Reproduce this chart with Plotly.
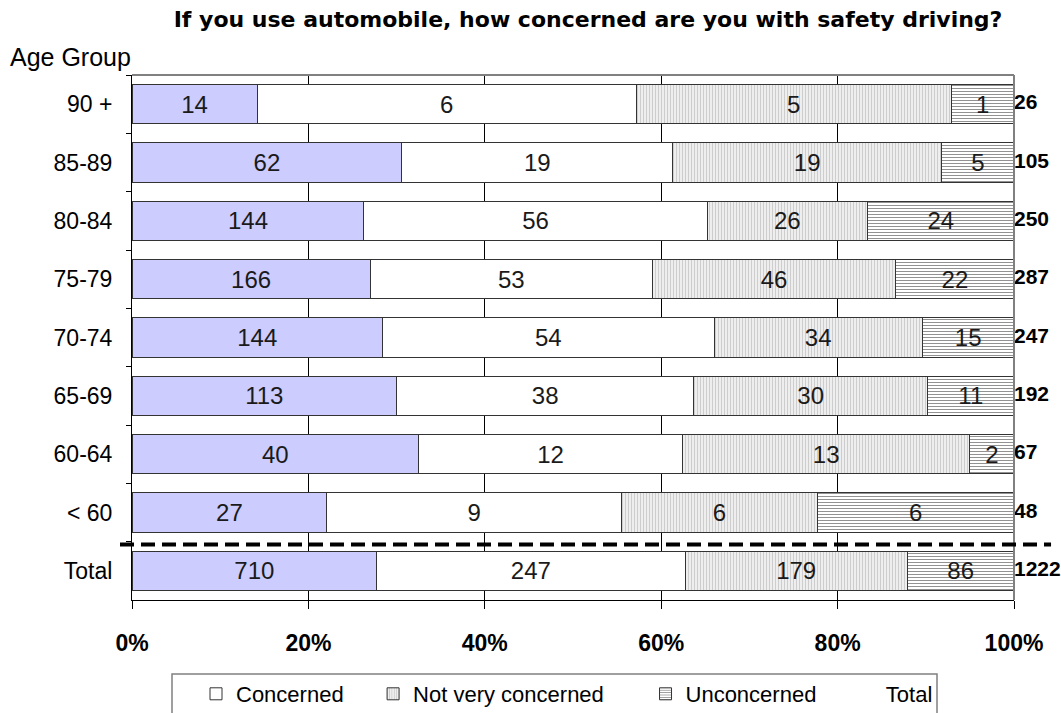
import plotly.graph_objects as go

# ---- data ----
age_groups = ["90 +", "85-89", "80-84", "75-79", "70-74", "65-69", "60-64", "< 60", "Total"]

# segment widths (percent of bar)
pct_very_concerned = [14.2, 30.6, 26.3, 27.0, 28.4, 30.0, 32.5, 22.1, 27.75]
pct_concerned = [42.95, 30.7, 38.9, 32.0, 37.6, 33.7, 29.9, 33.4, 34.95]
pct_not_very = [35.75, 30.5, 18.2, 27.6, 23.6, 26.5, 32.6, 22.2, 25.2]
pct_unconcerned = [7.1, 8.2, 16.6, 13.4, 10.4, 9.8, 5.0, 22.3, 12.1]

# respondent counts shown as labels
n_very_concerned = [14, 62, 144, 166, 144, 113, 40, 27, 710]
n_concerned = [6, 19, 56, 53, 54, 38, 12, 9, 247]
n_not_very = [5, 19, 26, 46, 34, 30, 13, 6, 179]
n_unconcerned = [1, 5, 24, 22, 15, 11, 2, 6, 86]
n_total = [26, 105, 250, 287, 247, 192, 67, 48, 1222]

x_tick_values = [0, 20, 40, 60, 80, 100]
x_tick_labels = ["0%", "20%", "40%", "60%", "80%", "100%"]

FONT = "Liberation Sans, Arial, sans-serif"
bar_text_font = dict(family=FONT, size=24, color="#1a1a1a")
NB = "\u00a0"  # non-breaking space used to widen legend entries

fig = go.Figure()

fig.add_trace(go.Bar(
    y=age_groups, x=pct_very_concerned, orientation="h", name="Very concerned",
    showlegend=False,
    marker=dict(color="#CCCCFF", line=dict(color="#333333", width=1)),
    text=n_very_concerned, textposition="inside", insidetextanchor="middle",
    textfont=bar_text_font, textangle=0, constraintext="none",
    hoverinfo="skip",
))
fig.add_trace(go.Bar(
    y=age_groups, x=pct_concerned, orientation="h", name="Concerned" + NB * 4,
    marker=dict(color="white", line=dict(color="#333333", width=1)),
    text=n_concerned, textposition="inside", insidetextanchor="middle",
    textfont=bar_text_font, textangle=0, constraintext="none",
    hoverinfo="skip",
))
fig.add_trace(go.Bar(
    y=age_groups, x=pct_not_very, orientation="h", name="Not very concerned" + NB * 6,
    marker=dict(color="#f1f1f1", line=dict(color="#333333", width=1),
                pattern=dict(shape="|", fgcolor="#aaaaaa", bgcolor="#f1f1f1",
                             size=3, solidity=0.4, fillmode="overlay")),
    text=n_not_very, textposition="inside", insidetextanchor="middle",
    textfont=bar_text_font, textangle=0, constraintext="none",
    hoverinfo="skip",
))
fig.add_trace(go.Bar(
    y=age_groups, x=pct_unconcerned, orientation="h", name="Unconcerned" + NB * 4,
    marker=dict(color="white", line=dict(color="#333333", width=1),
                pattern=dict(shape="-", fgcolor="#222222", bgcolor="white",
                             size=3, solidity=0.33, fillmode="overlay")),
    text=n_unconcerned, textposition="inside", insidetextanchor="middle",
    textfont=bar_text_font, textangle=0, constraintext="none",
    hoverinfo="skip",
))
# legend-only entry for "Total"
fig.add_trace(go.Bar(
    y=[None], x=[None], orientation="h", name="Total",
    marker=dict(color="rgba(0,0,0,0)", line=dict(width=0)),
    hoverinfo="skip",
))
# totals at the right of each bar
fig.add_trace(go.Scatter(
    y=age_groups, x=[100] * len(age_groups), mode="text",
    text=[str(v) for v in n_total], textposition="middle right",
    textfont=dict(family=FONT, size=21, color="black", weight="bold"),
    showlegend=False, cliponaxis=False, hoverinfo="skip",
))

fig.update_layout(
    width=1061, height=713,
    margin=dict(l=132, r=47, t=75, b=113),
    barmode="stack", bargap=0.325,
    paper_bgcolor="white", plot_bgcolor="white",
    font=dict(family=FONT, color="black"),
    title=dict(
        text="If you use automobile, how concerned are you with safety driving?",
        font=dict(family="DejaVu Sans, sans-serif", size=22, color="black", weight="bold"),
        x=588 / 1061, xanchor="center", xref="container",
        y=1 - 19 / 713, yanchor="middle", yref="container",
    ),
    xaxis=dict(
        range=[0, 100], tickmode="array", tickvals=x_tick_values, ticktext=x_tick_labels,
        showgrid=True, gridcolor="black", gridwidth=1,
        showline=True, linecolor="black", linewidth=1,
        ticks="outside", ticklen=8, tickcolor="black",
        tickfont=dict(family=FONT, size=23, color="black", weight="bold"),
        ticklabelstandoff=14, zeroline=False, fixedrange=True,
    ),
    yaxis=dict(
        autorange="reversed", type="category",
        showline=True, linecolor="black", linewidth=1,
        ticks="outside", ticklen=5, tickcolor="black", tickson="boundaries",
        tickfont=dict(family=FONT, size=23, color="black"),
        ticklabelstandoff=14, showgrid=False, fixedrange=True,
    ),
    legend=dict(
        orientation="h", x=196 / 1061, xref="container", xanchor="left",
        y=1 - 673 / 713, yref="container", yanchor="top",
        borderwidth=0, bgcolor="rgba(0,0,0,0)",
        font=dict(family=FONT, size=22, color="black"),
        traceorder="normal", itemclick=False, itemdoubleclick=False,
    ),
    annotations=[dict(
        text="Age Group", xref="paper", yref="paper",
        x=-0.1406, y=1.0343, xanchor="left", yanchor="middle",
        showarrow=False, font=dict(family=FONT, size=25, color="black"),
    )],
    shapes=[
        # grey top and right plot borders
        dict(type="line", xref="paper", yref="paper", x0=0, x1=1, y0=1, y1=1,
             line=dict(color="#808080", width=2)),
        dict(type="line", xref="paper", yref="paper", x0=1, x1=1, y0=0, y1=1,
             line=dict(color="#808080", width=2)),
        # legend frame
        dict(type="rect", xref="paper", yref="paper",
             x0=(172 - 132) / 882, x1=(937 - 132) / 882,
             y0=-(674 - 600) / 525, y1=-(730 - 600) / 525,
             line=dict(color="#808080", width=1.5), fillcolor="rgba(0,0,0,0)"),
        # dashed separator between age groups and total
        dict(type="line", xref="paper", yref="y", x0=-0.0136, x1=1.042, y0=7.55, y1=7.55,
             line=dict(color="black", width=4, dash="14px,7px"), layer="above"),
    ],
)

fig.write_html("out.html")
